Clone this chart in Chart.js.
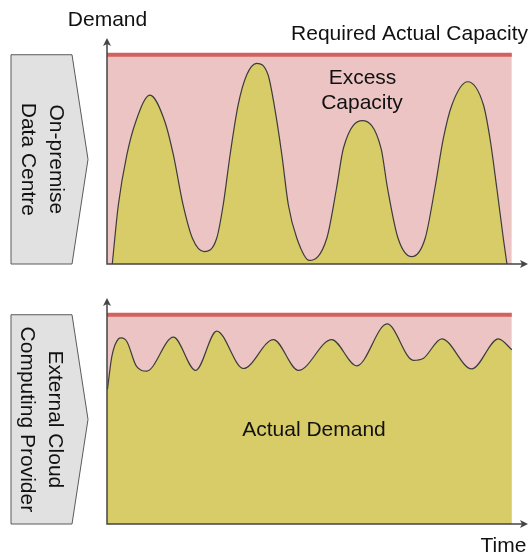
<!DOCTYPE html>
<html>
<head>
<meta charset="utf-8">
<script src="https://cdn.jsdelivr.net/npm/chart.js@4/dist/chart.umd.min.js"></script>
<style>
  body { margin: 0; background: #fff; }
  #wrap { position: relative; width: 531px; height: 554px; }
  canvas { position: absolute; left: 0; }
</style>
</head>
<body>
<div id="wrap">
  <canvas id="topChart" width="531" height="280" style="top:0"></canvas>
  <canvas id="bottomChart" width="531" height="274" style="top:280px"></canvas>
</div>
<script>
// time runs 0-100 across the shaded band, demand 0-100 where 100 = required capacity
const capacityTime = [0, 100];
const capacityLevel = [100, 100];

const onPremTime = [1.3, 2.8, 4.9, 7.1, 10.6, 14.3, 16.4, 18.8, 21.1, 24.0,
  27.1, 28.7, 30.4, 32.4, 34.5, 37.0, 39.8, 41.3, 43.2, 44.8, 46.9, 50.0,
  54.3, 56.7, 58.4, 63.1, 67.7, 69.3, 71.9, 75.3,
  78.6, 81.0, 83.1, 85.2, 89.1, 93.0, 94.6, 96.3, 97.9, 98.8];
const onPremDemand = [0, 28.2, 52.1, 68.0, 80.7, 68.0, 52.1, 28.2, 12.3, 5.9,
  12.3, 28.2, 52.1, 76.0, 90.3, 95.9, 90.3, 76.0, 52.1, 28.2, 12.3, 1.7,
  12.3, 36.2, 55.3, 68.5, 55.3, 36.2, 12.3, 3.5,
  12.3, 36.2, 60.1, 76.0, 87.1, 76.0, 60.1, 36.2, 12.3, 0];

const cloudTime = [0.1, 1.2, 2.8, 3.5, 4.9, 7.3, 9.8, 16.4, 21.9, 27.1, 33.7,
  41.1, 47.3, 55.5, 61.7, 69.2, 75.7, 78.1, 82.7, 90.1, 96.7, 100];
const cloudDemand = [64.2, 80.1, 88.4, 88.9, 87.2, 75.3, 73.1, 89.3, 73.4, 92.2, 74.3,
  88.1, 73.4, 88.1, 75.6, 95.6, 78.2, 79.1, 88.5, 74.1, 88.5, 83.3];

const FONT = "21px 'Liberation Sans', Arial, sans-serif";

const decor = {
  id: "decor",
  afterDraw(chart, args, opts) {
    const ctx = chart.ctx;
    const xs = chart.scales.x, ys = chart.scales.y;
    const x0 = xs.getPixelForValue(0);
    const y0 = ys.getPixelForValue(0);
    const yCap = ys.getPixelForValue(100);
    const yTop = ys.top, xEnd = xs.right;
    ctx.save();

    // axes with arrow heads
    ctx.strokeStyle = "#444";
    ctx.fillStyle = "#444";
    ctx.lineWidth = 1.5;
    ctx.beginPath();
    ctx.moveTo(x0, y0);
    ctx.lineTo(x0, yTop + 5);
    ctx.moveTo(x0 - 0.75, y0);
    ctx.lineTo(xEnd - 5, y0);
    ctx.stroke();
    ctx.beginPath();
    ctx.moveTo(x0, yTop);
    ctx.lineTo(x0 - 4, yTop + 8);
    ctx.lineTo(x0, yTop + 6);
    ctx.lineTo(x0 + 4, yTop + 8);
    ctx.closePath();
    ctx.fill();
    ctx.beginPath();
    ctx.moveTo(xEnd, y0);
    ctx.lineTo(xEnd - 8, y0 - 4);
    ctx.lineTo(xEnd - 6, y0);
    ctx.lineTo(xEnd - 8, y0 + 4);
    ctx.closePath();
    ctx.fill();

    // side tag (chevron box)
    const mid = (yCap + y0) / 2;
    ctx.beginPath();
    ctx.moveTo(11, yCap);
    ctx.lineTo(72, yCap);
    ctx.lineTo(88, mid);
    ctx.lineTo(72, y0);
    ctx.lineTo(11, y0);
    ctx.closePath();
    ctx.fillStyle = "#e1e1e1";
    ctx.fill();
    ctx.strokeStyle = "#5a5a5a";
    ctx.lineWidth = 1;
    ctx.stroke();

    ctx.fillStyle = "#111";
    ctx.font = FONT;
    ctx.textBaseline = "alphabetic";
    opts.tag.forEach((t) => {
      ctx.save();
      ctx.translate(t.x, mid);
      ctx.rotate(Math.PI / 2);
      ctx.textAlign = "center";
      ctx.fillText(t.text, 0, 0);
      ctx.restore();
    });

    opts.labels.forEach((l) => {
      ctx.textAlign = l.align || "center";
      ctx.fillText(l.text, l.x, l.y);
    });
    ctx.restore();
  },
};

function makeChart(id, time, demand, pad, decorOpts) {
  const toPoints = (xs, ys) => xs.map((x, i) => ({ x: x, y: ys[i] }));
  return new Chart(document.getElementById(id), {
    type: "line",
    data: {
      datasets: [
        {
          label: "Demand",
          data: toPoints(time, demand),
          borderColor: "#3c3c3c",
          borderWidth: 1.2,
          backgroundColor: "#d8cc68",
          fill: "origin",
          cubicInterpolationMode: "monotone",
          pointRadius: 0,
        },
        {
          label: "Required Actual Capacity",
          data: toPoints(capacityTime, capacityLevel),
          borderColor: "#d2625e",
          borderWidth: 4,
          backgroundColor: "#ecc4c4",
          fill: "origin",
          pointRadius: 0,
        },
      ],
    },
    options: {
      responsive: false,
      animation: false,
      layout: { padding: pad },
      scales: {
        x: { type: "linear", min: 0, max: 104, display: false },
        y: { min: 0, max: 108, display: false },
      },
      plugins: {
        legend: { display: false },
        tooltip: { enabled: false },
        decor: decorOpts,
      },
    },
    plugins: [decor],
  });
}

makeChart("topChart", onPremTime, onPremDemand,
  { left: 107, right: 3, top: 38, bottom: 16 },
  {
    tag: [
      { text: "On-premise", x: 49.5 },
      { text: "Data Centre", x: 22 },
    ],
    labels: [
      { text: "Demand", x: 107.5, y: 26 },
      { text: "Required Actual Capacity", x: 528, y: 40, align: "right" },
      { text: "Excess", x: 362.5, y: 83.5 },
      { text: "Capacity", x: 362, y: 108.5 },
    ],
  });

makeChart("bottomChart", cloudTime, cloudDemand,
  { left: 107, right: 3, top: 18, bottom: 30 },
  {
    tag: [
      { text: "External Cloud", x: 49 },
      { text: "Computing Provider", x: 21 },
    ],
    labels: [
      { text: "Actual Demand", x: 314, y: 156 },
      { text: "Time", x: 503.5, y: 271.5 },
    ],
  });
</script>
</body>
</html>
